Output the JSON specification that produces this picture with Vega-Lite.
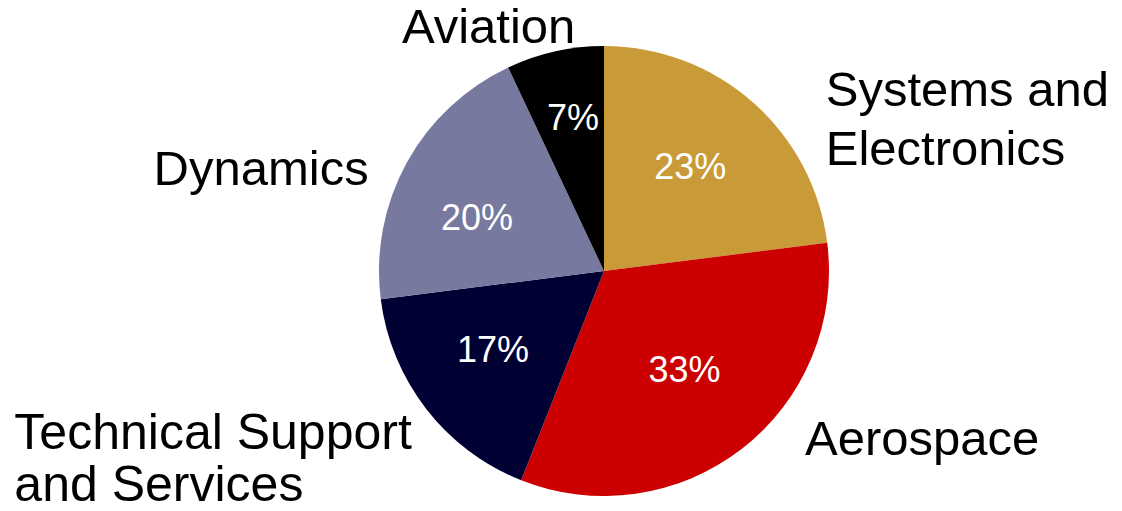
{
  "$schema": "https://vega.github.io/schema/vega-lite/v6.json",
  "width": 1036,
  "height": 480,
  "autosize": {"type": "none"},
  "padding": {"left": 86, "top": 31, "right": 0, "bottom": 0},
  "background": "white",
  "view": {"stroke": null},
  "config": {"text": {"font": "Liberation Sans"}},
  "data": {
    "values": [
      {"idx": 1, "segment": "Systems and Electronics", "label": "Systems and\nElectronics", "share": 23, "pct": "23%"},
      {"idx": 2, "segment": "Aerospace", "label": "Aerospace", "share": 33, "pct": "33%"},
      {"idx": 3, "segment": "Technical Support and Services", "label": "Technical Support\nand Services", "share": 17, "pct": "17%"},
      {"idx": 4, "segment": "Dynamics", "label": "Dynamics", "share": 20, "pct": "20%"},
      {"idx": 5, "segment": "Aviation", "label": "Aviation", "share": 7, "pct": "7%"}
    ]
  },
  "encoding": {
    "theta": {"field": "share", "type": "quantitative", "stack": true},
    "order": {"field": "idx", "type": "quantitative", "sort": "ascending"}
  },
  "layer": [
    {
      "mark": {"type": "arc", "outerRadius": 225},
      "encoding": {
        "color": {
          "field": "segment",
          "type": "nominal",
          "legend": null,
          "scale": {
            "domain": ["Systems and Electronics", "Aerospace", "Technical Support and Services", "Dynamics", "Aviation"],
            "range": ["#C99A38", "#CC0000", "#000033", "#77799E", "#000000"]
          }
        }
      }
    },
    {
      "mark": {"type": "text", "radius": 138, "fontSize": 36, "color": "white", "align": "center", "baseline": "middle", "dx": -5, "dy": 1},
      "encoding": {"text": {"condition": {"test": "datum.idx === 1", "field": "pct"}, "value": ""}}
    },
    {
      "mark": {"type": "text", "radius": 138, "fontSize": 36, "color": "white", "align": "center", "baseline": "middle", "dx": -4, "dy": -9},
      "encoding": {"text": {"condition": {"test": "datum.idx === 2", "field": "pct"}, "value": ""}}
    },
    {
      "mark": {"type": "text", "radius": 138, "fontSize": 36, "color": "white", "align": "center", "baseline": "middle", "dx": -2, "dy": -5},
      "encoding": {"text": {"condition": {"test": "datum.idx === 3", "field": "pct"}, "value": ""}}
    },
    {
      "mark": {"type": "text", "radius": 138, "fontSize": 36, "color": "white", "align": "center", "baseline": "middle", "dx": -6, "dy": 14},
      "encoding": {"text": {"condition": {"test": "datum.idx === 4", "field": "pct"}, "value": ""}}
    },
    {
      "mark": {"type": "text", "radius": 138, "fontSize": 36, "color": "white", "align": "center", "baseline": "middle", "dx": -1, "dy": -17},
      "encoding": {"text": {"condition": {"test": "datum.idx === 5", "field": "pct"}, "value": ""}}
    },
    {
      "mark": {"type": "text", "radius": 240, "fontSize": 49, "color": "black", "align": "left", "baseline": "alphabetic", "lineBreak": "\n", "lineHeight": 59, "dx": 63, "dy": 15},
      "encoding": {"text": {"condition": {"test": "datum.idx === 1", "field": "label"}, "value": ""}}
    },
    {
      "mark": {"type": "text", "radius": 240, "fontSize": 49, "color": "black", "align": "left", "baseline": "alphabetic", "dx": 54, "dy": -6},
      "encoding": {"text": {"condition": {"test": "datum.idx === 2", "field": "label"}, "value": ""}}
    },
    {
      "mark": {"type": "text", "radius": 240, "fontSize": 50, "color": "black", "align": "left", "baseline": "alphabetic", "lineBreak": "\n", "lineHeight": 52, "dx": -400, "dy": 31},
      "encoding": {"text": {"condition": {"test": "datum.idx === 3", "field": "label"}, "value": ""}}
    },
    {
      "mark": {"type": "text", "radius": 240, "fontSize": 49, "color": "black", "align": "right", "baseline": "alphabetic", "dx": -25, "dy": 30},
      "encoding": {"text": {"condition": {"test": "datum.idx === 4", "field": "label"}, "value": ""}}
    },
    {
      "mark": {"type": "text", "radius": 240, "fontSize": 49, "color": "black", "align": "center", "baseline": "alphabetic", "dx": -63, "dy": 6},
      "encoding": {"text": {"condition": {"test": "datum.idx === 5", "field": "label"}, "value": ""}}
    }
  ]
}
